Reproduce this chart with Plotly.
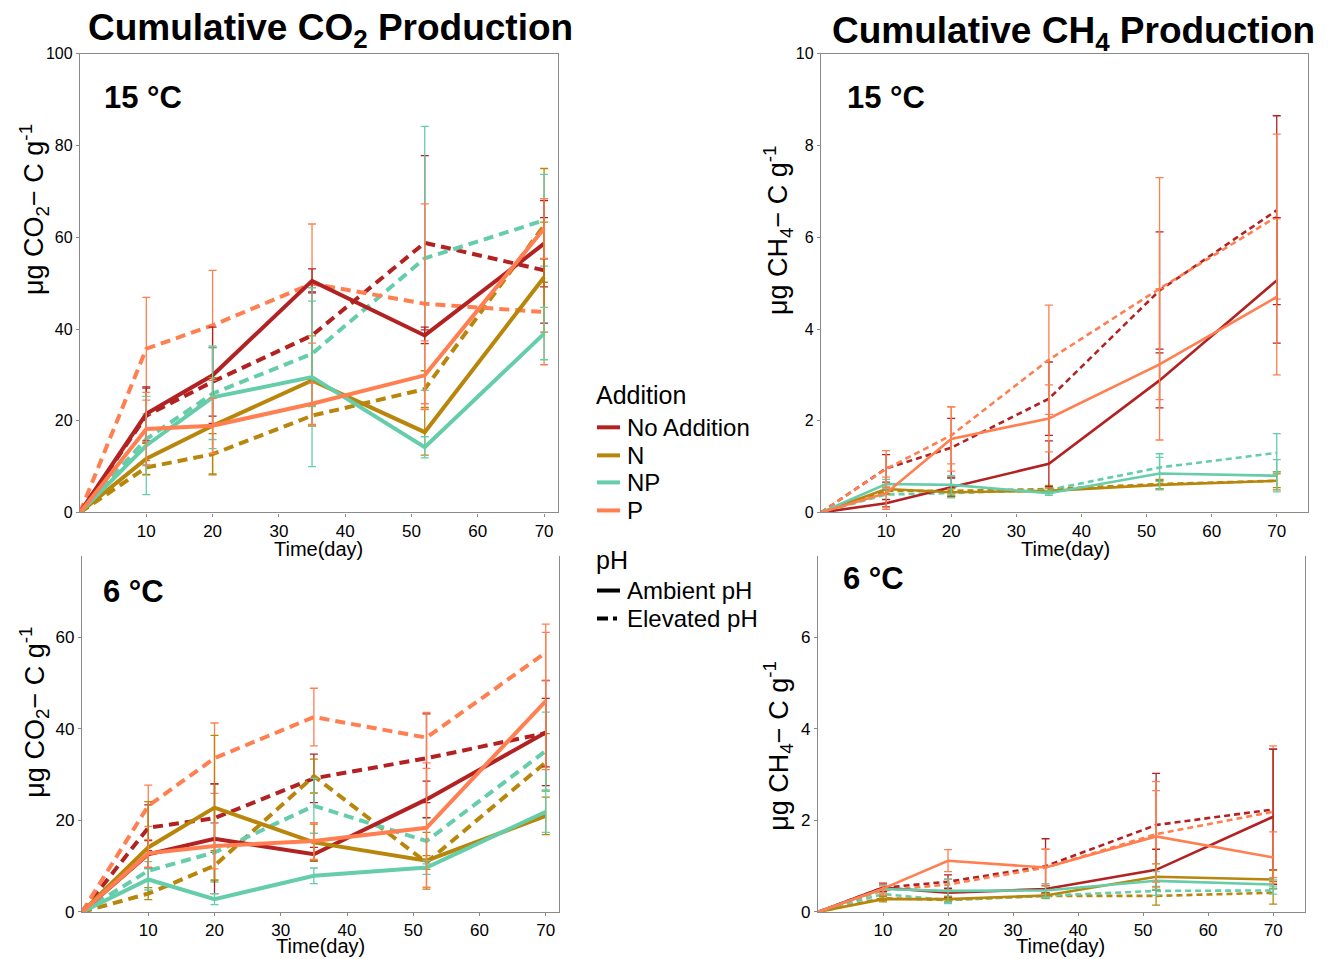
import plotly.graph_objects as go

W, H = 1328, 959

# ---------------- data ----------------
days = [0, 10, 20, 35, 52, 70]
additions = ["No Addition", "N", "NP", "P"]
ph_levels = ["Ambient pH", "Elevated pH"]
x_ticks = [10, 20, 30, 40, 50, 60, 70]

# CO2, 15 °C
co2_15_amb = {
    "No Addition": [0, 21.5, 29.9, 50.5, 38.6, 58.6],
    "N": [0, 11.7, 18.9, 28.8, 17.5, 51.3],
    "NP": [0, 14.6, 25.1, 29.5, 14.2, 39.0],
    "P": [0, 18.2, 18.9, 23.7, 29.9, 61.9],
}
co2_15_amb_se = {
    "No Addition": [0, 5.9, 10.5, 2.6, 1.8, 9.4],
    "N": [0, 3.5, 10.5, 9.7, 5.0, 12.0],
    "NP": [0, 10.7, 11.2, 19.5, 2.3, 5.7],
    "P": [0, 8.0, 6.0, 4.5, 7.5, 6.5],
}
co2_15_elev = {
    "No Addition": [0, 21.1, 28.5, 38.6, 58.8, 52.8],
    "N": [0, 9.8, 12.7, 21.1, 26.9, 62.6],
    "NP": [0, 16.0, 25.9, 34.6, 55.4, 63.7],
    "P": [0, 35.7, 40.8, 49.9, 45.5, 43.7],
}
co2_15_elev_se = {
    "No Addition": [0, 6.0, 7.5, 9.5, 19.0, 11.5],
    "N": [0, 1.5, 4.5, 2.3, 4.0, 12.4],
    "NP": [0, 5.5, 10.0, 11.5, 28.8, 10.0],
    "P": [0, 11.2, 12.0, 13.0, 21.8, 11.5],
}

# CO2, 6 °C
co2_6_amb = {
    "No Addition": [0, 12.6, 16.0, 12.6, 24.6, 39.2],
    "N": [0, 14.1, 22.8, 15.2, 11.2, 21.0],
    "NP": [0, 7.1, 2.8, 7.9, 9.7, 21.9],
    "P": [0, 12.8, 14.4, 15.5, 18.4, 46.1],
}
co2_6_amb_se = {
    "No Addition": [0, 3.0, 12.0, 1.5, 4.0, 7.5],
    "N": [0, 10.0, 15.8, 4.0, 6.2, 4.1],
    "NP": [0, 2.3, 1.2, 1.7, 1.5, 4.5],
    "P": [0, 3.0, 5.0, 4.0, 13.0, 15.0],
}
co2_6_elev = {
    "No Addition": [0, 18.4, 20.5, 29.2, 33.6, 39.1],
    "N": [0, 4.0, 10.1, 29.7, 10.8, 32.7],
    "NP": [0, 9.0, 13.0, 23.2, 15.5, 35.2],
    "P": [0, 23.2, 33.6, 42.6, 38.1, 56.7],
}
co2_6_elev_se = {
    "No Addition": [0, 5.0, 7.5, 5.3, 9.7, 11.5],
    "N": [0, 1.3, 3.3, 3.7, 1.5, 6.3],
    "NP": [0, 2.0, 6.5, 6.0, 5.0, 8.5],
    "P": [0, 4.5, 7.7, 6.3, 5.5, 6.2],
}

# CH4, 15 °C
ch4_15_amb = {
    "No Addition": [0, 0.20, 0.55, 1.06, 2.88, 5.06],
    "N": [0, 0.51, 0.44, 0.47, 0.60, 0.69],
    "NP": [0, 0.62, 0.60, 0.42, 0.85, 0.80],
    "P": [0, 0.42, 1.60, 2.05, 3.23, 4.70],
}
ch4_15_amb_se = {
    "No Addition": [0, 0.08, 0.20, 0.50, 0.60, 1.37],
    "N": [0, 0.10, 0.08, 0.06, 0.10, 0.15],
    "NP": [0, 0.10, 0.20, 0.05, 0.35, 0.35],
    "P": [0, 0.35, 0.70, 0.73, 1.65, 1.70],
}
ch4_15_elev = {
    "No Addition": [0, 0.96, 1.41, 2.48, 4.84, 6.59],
    "N": [0, 0.47, 0.47, 0.51, 0.62, 0.69],
    "NP": [0, 0.39, 0.42, 0.49, 0.98, 1.30],
    "P": [0, 0.95, 1.68, 3.33, 4.88, 6.45],
}
ch4_15_elev_se = {
    "No Addition": [0, 0.30, 0.64, 0.80, 1.28, 2.06],
    "N": [0, 0.08, 0.06, 0.08, 0.10, 0.20],
    "NP": [0, 0.10, 0.10, 0.08, 0.30, 0.42],
    "P": [0, 0.40, 0.62, 1.19, 2.42, 1.80],
}

# CH4, 6 °C
ch4_6_amb = {
    "No Addition": [0, 0.53, 0.42, 0.50, 0.92, 2.08],
    "N": [0, 0.28, 0.28, 0.36, 0.77, 0.71],
    "NP": [0, 0.50, 0.46, 0.47, 0.68, 0.60],
    "P": [0, 0.51, 1.12, 0.97, 1.65, 1.19],
}
ch4_6_amb_se = {
    "No Addition": [0, 0.08, 0.10, 0.08, 0.45, 1.48],
    "N": [0, 0.06, 0.06, 0.05, 0.28, 0.20],
    "NP": [0, 0.08, 0.25, 0.15, 0.20, 0.10],
    "P": [0, 0.10, 0.24, 0.40, 1.00, 0.56],
}
ch4_6_elev = {
    "No Addition": [0, 0.53, 0.66, 1.00, 1.90, 2.24],
    "N": [0, 0.30, 0.26, 0.35, 0.35, 0.42],
    "NP": [0, 0.39, 0.26, 0.35, 0.46, 0.47],
    "P": [0, 0.47, 0.60, 0.97, 1.70, 2.19],
}
ch4_6_elev_se = {
    "No Addition": [0, 0.10, 0.15, 0.60, 1.13, 1.32],
    "N": [0, 0.05, 0.05, 0.05, 0.20, 0.25],
    "NP": [0, 0.06, 0.08, 0.06, 0.10, 0.08],
    "P": [0, 0.10, 0.12, 0.40, 1.15, 1.44],
}

# ---------------- style ----------------
colors = {"No Addition": "#B22222", "N": "#B8860B", "NP": "#66CDAA", "P": "#FF7F50"}
FONT = "Liberation Sans, Arial, Helvetica, sans-serif"
AXC = "#8a8a8a"

# screen mapping correction (rendered page is offset/squeezed vertically)
Y_OFF, Y_SCALE = 8.2, 0.98


def px(x):
    return x / W


def py(y):
    return 1 - ((y - Y_OFF) / Y_SCALE) / H


panels = [
    # (xaxis id, yaxis id, amb, amb_se, elev, elev_se, lw, dash)
    ("x", "y", co2_15_amb, co2_15_amb_se, co2_15_elev, co2_15_elev_se, 4, "10px,6px"),
    ("x2", "y2", ch4_15_amb, ch4_15_amb_se, ch4_15_elev, ch4_15_elev_se, 2.6, "6px,4px"),
    ("x3", "y3", co2_6_amb, co2_6_amb_se, co2_6_elev, co2_6_elev_se, 4, "10px,6px"),
    ("x4", "y4", ch4_6_amb, ch4_6_amb_se, ch4_6_elev, ch4_6_elev_se, 2.6, "6px,4px"),
]

fig = go.Figure()

for xa, ya, amb, amb_se, elev, elev_se, lw, dsh in panels:
    for series, series_se, dash in ((elev, elev_se, dsh), (amb, amb_se, "solid")):
        for add in additions:
            fig.add_trace(go.Scatter(
                x=days, y=series[add], mode="lines", name=add,
                line=dict(color=colors[add], width=lw, dash=dash),
                error_y=dict(type="data", array=series_se[add], visible=True,
                             color=colors[add], thickness=1.3, width=4),
                xaxis=xa, yaxis=ya, showlegend=False, hoverinfo="skip",
            ))

# ---------------- axes ----------------
domains = {
    "x": [px(80), px(558)], "y": [py(512), py(54)],
    "x2": [px(821), px(1308)], "y2": [py(512), py(54)],
    "x3": [px(82), px(559)], "y3": [py(911), py(556)],
    "x4": [px(818), px(1305)], "y4": [py(911), py(556)],
}
xranges = {"x": [0, 72.1], "x2": [0, 74.8], "x3": [0, 72.0], "x4": [0, 74.9]}
yranges = {"y": [0, 100], "y2": [0, 10], "y3": [0, 77.7], "y4": [0, 7.77]}
ytick_vals = {
    "y": [0, 20, 40, 60, 80, 100], "y2": [0, 2, 4, 6, 8, 10],
    "y3": [0, 20, 40, 60], "y4": [0, 2, 4, 6],
}

layout_axes = {}
for xa, ya, *_ in panels:
    top = xa in ("x", "x2")
    xfs = 17
    yfs = 16 if top else 17
    xkey = "xaxis" if xa == "x" else "xaxis" + xa[1:]
    ykey = "yaxis" if ya == "y" else "yaxis" + ya[1:]
    layout_axes[xkey] = dict(
        domain=domains[xa], range=xranges[xa], anchor=ya,
        tickvals=x_ticks, ticks="outside", ticklen=3, tickcolor=AXC, tickwidth=1.2,
        showline=True, linecolor=AXC, linewidth=1.3, mirror=top,
        showgrid=False, zeroline=False,
        tickfont=dict(size=xfs, color="black", family=FONT),
    )
    layout_axes[ykey] = dict(
        domain=domains[ya], range=yranges[ya], anchor=xa,
        tickvals=ytick_vals[ya], ticks="outside", ticklen=3, tickcolor=AXC, tickwidth=1.2,
        showline=True, linecolor=AXC, linewidth=1.3, mirror=True,
        showgrid=False, zeroline=False,
        tickfont=dict(size=yfs, color="black", family=FONT),
    )

annotations = []
shapes = []


def ann(text, x, y, size, bold=False, angle=0, xanchor="center"):
    annotations.append(dict(
        text=f"<b>{text}</b>" if bold else text, x=px(x), y=py(y),
        xref="paper", yref="paper", showarrow=False, textangle=angle,
        xanchor=xanchor, yanchor="middle",
        font=dict(size=size, color="black", family=FONT),
    ))


ann("Cumulative CO<sub>2</sub> Production", 330, 30, 37, bold=True)
ann("Cumulative CH<sub>4</sub> Production", 1073, 33, 37, bold=True)
ann("15 °C", 102, 98, 31, bold=True, xanchor="left")
ann("15 °C", 845, 98, 31, bold=True, xanchor="left")
ann("6 °C", 101, 591, 31, bold=True, xanchor="left")
ann("6 °C", 841, 578, 31, bold=True, xanchor="left")
ann("Time(day)", 318, 549, 20)
ann("Time(day)", 1065, 549, 20)
ann("Time(day)", 320, 945, 20)
ann("Time(day)", 1060, 945, 20)
ann("μg CO<sub>2</sub>− C g<sup>-1</sup>", 34, 210, 27, angle=-90)
ann("μg CH<sub>4</sub>− C g<sup>-1</sup>", 778, 230, 27, angle=-90)
ann("μg CO<sub>2</sub>− C g<sup>-1</sup>", 34, 712, 27, angle=-90)
ann("μg CH<sub>4</sub>− C g<sup>-1</sup>", 778, 745, 27, angle=-90)

# ---------------- legend (drawn as keys + text) ----------------
LEG_FS = 24
ann("Addition", 594, 395, 25, xanchor="left")
add_rows = [427, 455, 482, 510]
for add, yy in zip(additions, add_rows):
    shapes.append(dict(type="line", xref="paper", yref="paper",
                       x0=px(597), x1=px(620), y0=py(yy), y1=py(yy),
                       line=dict(color=colors[add], width=4)))
    ann(add, 625, yy, LEG_FS, xanchor="left")
ann("pH", 594, 560, 25, xanchor="left")
ph_rows = [590, 618]
for ph, yy, dash in zip(ph_levels, ph_rows, ["solid", "11px,5px,4px,10px"]):
    shapes.append(dict(type="line", xref="paper", yref="paper",
                       x0=px(597), x1=px(620), y0=py(yy), y1=py(yy),
                       line=dict(color="black", width=4, dash=dash)))
    ann(ph, 625, yy, LEG_FS, xanchor="left")

fig.update_layout(
    width=W, height=H,
    margin=dict(l=0, r=0, t=0, b=0),
    paper_bgcolor="white", plot_bgcolor="white",
    font=dict(family=FONT, color="black"),
    showlegend=False,
    annotations=annotations,
    shapes=shapes,
    **layout_axes,
)

fig.write_html("out.html")
